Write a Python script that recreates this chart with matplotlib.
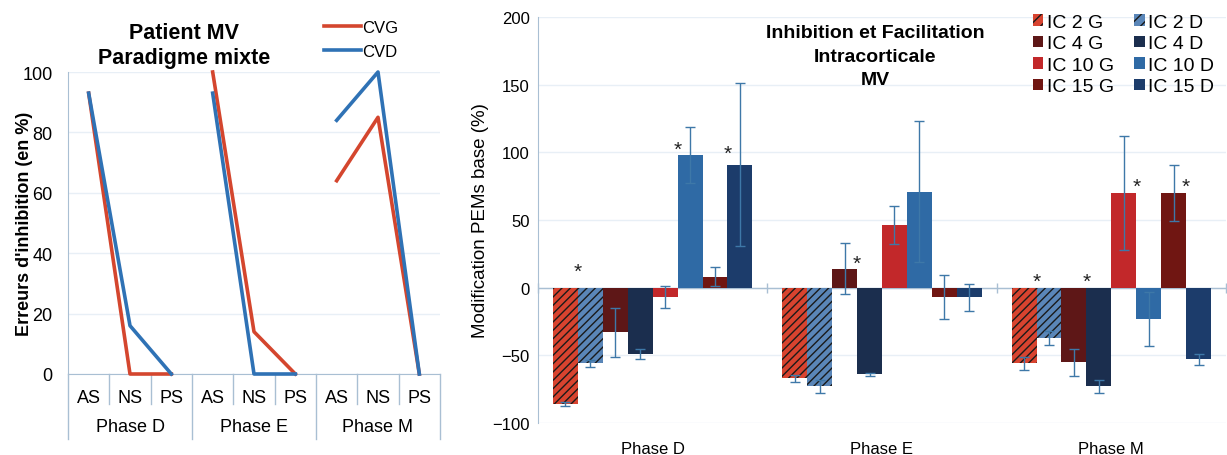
import numpy as np
import matplotlib
matplotlib.use("Agg")
import matplotlib.pyplot as plt
from matplotlib.lines import Line2D
from matplotlib.patches import Patch
import matplotlib.transforms as mtransforms

plt.rcParams['font.family'] = ['Liberation Sans', 'DejaVu Sans']

# ---------------- data: left chart ----------------
phases = ["Phase D", "Phase E", "Phase M"]
conditions = ["AS", "NS", "PS"]
cvg = [[93, 0, 0], [100, 14, 0], [64, 85, 0]]
cvd = [[93, 16, 0], [93, 0, 0], [84, 100, 0]]

# ---------------- data: right chart ----------------
series = ["IC 2 G", "IC 2 D", "IC 4 G", "IC 4 D", "IC 10 G", "IC 10 D", "IC 15 G", "IC 15 D"]
values = {
    "IC 2 G":  [-86, -67, -56],
    "IC 2 D":  [-56, -73, -37],
    "IC 4 G":  [-33, 14, -55],
    "IC 4 D":  [-49, -64, -73],
    "IC 10 G": [-7, 46, 70],
    "IC 10 D": [98, 71, -23],
    "IC 15 G": [8, -7, 70],
    "IC 15 D": [91, -7, -53],
}
errors = {
    "IC 2 G":  [1.5, 2.5, 5],
    "IC 2 D":  [2.5, 5, 5],
    "IC 4 G":  [18, 19, 10],
    "IC 4 D":  [4, 1, 5],
    "IC 10 G": [8, 14, 42],
    "IC 10 D": [21, 52, 20],
    "IC 15 G": [7, 16, 21],
    "IC 15 D": [60, 10, 4],
}
# significance stars: (phase index, series index of left bar of the pair, y)
stars = [(0, 0, 12), (0, 4, 102), (0, 6, 99), (1, 2, 18),
         (2, 0, 5), (2, 2, 5), (2, 4, 75), (2, 6, 75)]

colors = {
    "IC 2 G": "#d8432f", "IC 2 D": "#5a86b8",
    "IC 4 G": "#5e1717", "IC 4 D": "#1b2e4e",
    "IC 10 G": "#c2282a", "IC 10 D": "#2f6aa5",
    "IC 15 G": "#701612", "IC 15 D": "#1c3c6b",
}
hatched = ["IC 2 G", "IC 2 D"]

fig = plt.figure(figsize=(12.27, 4.56), dpi=100)

axis_col = "#a9bfd3"
grid_col = "#e8eff6"

# ==========================================
# Left chart: lines per phase
# ==========================================
ax1 = fig.add_axes([68 / 1227, 1 - 375 / 456, 372 / 1227, 302 / 456])
ncat = len(conditions)
for p in range(len(phases)):
    xs = np.arange(ncat) + p * ncat
    ax1.plot(xs, cvg[p], color="#d4462e", lw=2.6, clip_on=False, zorder=3)
    ax1.plot(xs, cvd[p], color="#2f72b5", lw=2.6, clip_on=False, zorder=3)

ax1.set_xlim(-0.5, len(phases) * ncat - 0.5)
ax1.set_ylim(0, 100)
ax1.set_yticks(range(0, 101, 20))
ax1.yaxis.grid(True, color=grid_col, lw=1)
ax1.set_axisbelow(True)
ax1.set_xticks(np.arange(len(phases) * ncat))
ax1.set_xticklabels(conditions * len(phases))
ax1.tick_params(axis="x", length=0, pad=11, labelsize=13)
ax1.tick_params(axis="y", length=0, pad=11, labelsize=13)
for s in ["top", "right"]:
    ax1.spines[s].set_visible(False)
for s in ["left", "bottom"]:
    ax1.spines[s].set_color(axis_col)

trans1 = mtransforms.blended_transform_factory(ax1.transData, ax1.transAxes)
for i in range(len(phases) * ncat + 1):
    xb = i - 0.5
    depth = -0.215 if i % ncat == 0 else -0.10
    ax1.plot([xb, xb], [0, depth], transform=trans1, color=axis_col, lw=1, clip_on=False)
for p, name in enumerate(phases):
    ax1.text(p * ncat + 1, -0.175, name, transform=trans1, ha="center", va="center", fontsize=13)

ax1.set_ylabel("Erreurs d'inhibition (en %)", fontsize=13, fontweight="bold")
ax1.yaxis.set_label_coords(-0.094, 0.5)
fig.text(184 / 1227, 1 - 46 / 456, "Patient MV\nParadigme mixte", ha="center", va="center",
         fontsize=15.5, fontweight="bold", linespacing=1.3)

leg_handles = [Line2D([], [], color="#d4462e", lw=2.6), Line2D([], [], color="#2f72b5", lw=2.6)]
fig.legend(leg_handles, ["CVG", "CVD"], loc="upper left", bbox_to_anchor=(309 / 1227, 1 - 6 / 456),
           frameon=False, fontsize=12, handlelength=2.2, handletextpad=0.1, labelspacing=0.55)

# ==========================================
# Right chart: grouped bars
# ==========================================
ax2 = fig.add_axes([538 / 1227, 1 - 424 / 456, 688 / 1227, 406 / 456])
x = np.arange(len(phases))
nser = len(series)
width = 0.87 / nser
for i, name in enumerate(series):
    offs = -0.435 + width * (i + 0.5)
    ax2.bar(x + offs, values[name], width, color=colors[name],
            edgecolor="#1a1a1a" if name in hatched else colors[name],
            hatch="////" if name in hatched else None, lw=0, zorder=2)
    ax2.errorbar(x + offs, values[name], yerr=errors[name], fmt="none", ecolor="#3e78a8",
                 elinewidth=1, capsize=3.5, capthick=1, zorder=3)

for p, si, yv in stars:
    xs = p - 0.435 + width * (si + 1)
    ax2.text(xs, yv, "*", ha="center", va="center", fontsize=15, color="#222222")

ax2.set_xlim(-0.5, len(phases) - 0.5)
ax2.set_ylim(-100, 200)
ax2.set_yticks(range(-100, 201, 50))
ax2.yaxis.grid(True, color=grid_col, lw=1)
ax2.set_axisbelow(True)
ax2.axhline(0, color=axis_col, lw=1, zorder=1)
bounds = np.arange(len(phases) + 1) - 0.5
ax2.plot(bounds, np.zeros(len(bounds)), ls="none", marker="|", ms=7, color=axis_col, clip_on=False)
ax2.set_xticks(x)
ax2.set_xticklabels(phases)
ax2.tick_params(axis="x", length=0, pad=13, labelsize=12)
ax2.tick_params(axis="y", length=0, pad=6, labelsize=12)
for s in ["top", "right", "bottom"]:
    ax2.spines[s].set_visible(False)
ax2.spines["left"].set_color(axis_col)
ax2.set_ylabel("Modification PEMs base (%)", fontsize=13.5, labelpad=2)

ax2.text(875 / 1227, 1 - 57 / 456, "Inhibition et Facilitation\nIntracorticale\nMV",
         transform=fig.transFigure, ha="center", va="center", fontsize=14,
         fontweight="bold", linespacing=1.47)

order = ["IC 2 G", "IC 4 G", "IC 10 G", "IC 15 G", "IC 2 D", "IC 4 D", "IC 10 D", "IC 15 D"]
handles = [Patch(facecolor=colors[n], edgecolor="#1a1a1a" if n in hatched else colors[n],
                 hatch="///" if n in hatched else None, lw=0) for n in order]
fig.legend(handles, order, loc="upper left", bbox_to_anchor=(1023 / 1227, 1 - 5 / 456), ncol=2,
           frameon=False, fontsize=14, handlelength=0.55, handleheight=0.55, handletextpad=0.2,
           columnspacing=1.0, labelspacing=0.235, borderpad=0)

plt.savefig("out.png", dpi=100)
